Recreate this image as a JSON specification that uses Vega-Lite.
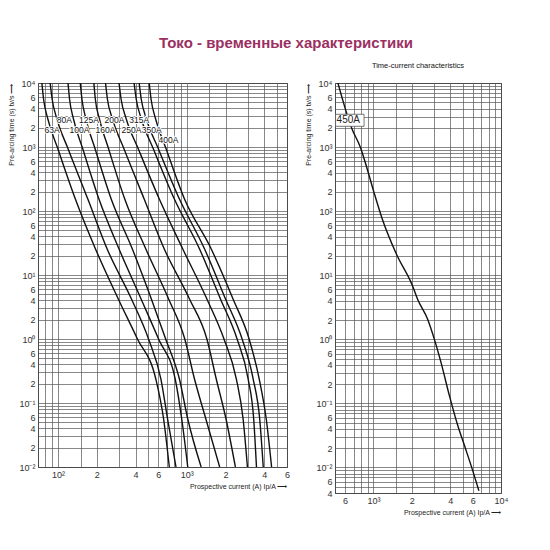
{
  "$schema": "https://vega.github.io/schema/vega-lite/v6.json",
  "background": "white",
  "padding": {"left": 7, "top": 36, "right": 5, "bottom": 5},
  "title": {"text": "Токо - временные характеристики", "fontSize": 15, "font": "Liberation Sans", "fontWeight": "bold", "color": "#9b2f62", "anchor": "middle", "dx": 28, "offset": 10},
  "config": {
    "font": "Liberation Sans",
    "view": {"stroke": "#333", "strokeWidth": 1},
    "axis": {"grid": true, "gridColor": "#555", "gridWidth": 0.7, "gridOpacity": 1, "ticks": false, "domain": false, "labelFontSize": 9, "labelColor": "#333", "titleFontSize": 7, "titleFontWeight": "normal", "titleColor": "#222", "labelPadding": 3, "labelOverlap": false, "labelFlush": false, "labelBound": false}
  },
  "datasets": {
    "left": [
      {"fuse": "63A", "I": 75, "t": 10000}, {"fuse": "63A", "I": 77.3, "t": 5623}, {"fuse": "63A", "I": 83.5, "t": 2738}, {"fuse": "63A", "I": 100, "t": 931}, {"fuse": "63A", "I": 136.5, "t": 154}, {"fuse": "63A", "I": 195.6, "t": 25.5}, {"fuse": "63A", "I": 294, "t": 4.22}, {"fuse": "63A", "I": 414, "t": 1}, {"fuse": "63A", "I": 575, "t": 0.237}, {"fuse": "63A", "I": 661, "t": 0.0562}, {"fuse": "63A", "I": 732, "t": 0.01},
      {"fuse": "80A", "I": 87, "t": 10000}, {"fuse": "80A", "I": 90.1, "t": 5623}, {"fuse": "80A", "I": 98.2, "t": 2738}, {"fuse": "80A", "I": 120, "t": 931}, {"fuse": "80A", "I": 170.6, "t": 154}, {"fuse": "80A", "I": 241, "t": 25.5}, {"fuse": "80A", "I": 372, "t": 4.22}, {"fuse": "80A", "I": 505, "t": 1}, {"fuse": "80A", "I": 630, "t": 0.237}, {"fuse": "80A", "I": 710, "t": 0.0562}, {"fuse": "80A", "I": 825, "t": 0.01},
      {"fuse": "100A", "I": 119.7, "t": 10000}, {"fuse": "100A", "I": 123, "t": 5623}, {"fuse": "100A", "I": 132, "t": 2738}, {"fuse": "100A", "I": 156, "t": 931}, {"fuse": "100A", "I": 208, "t": 154}, {"fuse": "100A", "I": 298, "t": 25.5}, {"fuse": "100A", "I": 442, "t": 4.22}, {"fuse": "100A", "I": 604, "t": 1}, {"fuse": "100A", "I": 813, "t": 0.237}, {"fuse": "100A", "I": 914, "t": 0.0562}, {"fuse": "100A", "I": 1018, "t": 0.01},
      {"fuse": "125A", "I": 149, "t": 10000}, {"fuse": "125A", "I": 153.5, "t": 5623}, {"fuse": "125A", "I": 165, "t": 2738}, {"fuse": "125A", "I": 194.5, "t": 931}, {"fuse": "125A", "I": 259, "t": 154}, {"fuse": "125A", "I": 378, "t": 25.5}, {"fuse": "125A", "I": 531, "t": 4.22}, {"fuse": "125A", "I": 686, "t": 1}, {"fuse": "125A", "I": 877, "t": 0.237}, {"fuse": "125A", "I": 1018, "t": 0.0562}, {"fuse": "125A", "I": 1293, "t": 0.01},
      {"fuse": "160A", "I": 190, "t": 10000}, {"fuse": "160A", "I": 195, "t": 5623}, {"fuse": "160A", "I": 210, "t": 2738}, {"fuse": "160A", "I": 247.5, "t": 931}, {"fuse": "160A", "I": 330, "t": 154}, {"fuse": "160A", "I": 481, "t": 25.5}, {"fuse": "160A", "I": 723, "t": 4.22}, {"fuse": "160A", "I": 965, "t": 1}, {"fuse": "160A", "I": 1148, "t": 0.237}, {"fuse": "160A", "I": 1407, "t": 0.0562}, {"fuse": "160A", "I": 1801, "t": 0.01},
      {"fuse": "200A", "I": 234, "t": 10000}, {"fuse": "200A", "I": 242, "t": 5623}, {"fuse": "200A", "I": 265, "t": 2738}, {"fuse": "200A", "I": 326, "t": 931}, {"fuse": "200A", "I": 467, "t": 154}, {"fuse": "200A", "I": 669, "t": 25.5}, {"fuse": "200A", "I": 1050, "t": 4.22}, {"fuse": "200A", "I": 1433, "t": 1}, {"fuse": "200A", "I": 1694, "t": 0.237}, {"fuse": "200A", "I": 2017, "t": 0.0562}, {"fuse": "200A", "I": 2385, "t": 0.01},
      {"fuse": "250A", "I": 298, "t": 10000}, {"fuse": "250A", "I": 309, "t": 5623}, {"fuse": "250A", "I": 339, "t": 2738}, {"fuse": "250A", "I": 421, "t": 931}, {"fuse": "250A", "I": 612, "t": 154}, {"fuse": "250A", "I": 931, "t": 25.5}, {"fuse": "250A", "I": 1433, "t": 4.22}, {"fuse": "250A", "I": 1945, "t": 1}, {"fuse": "250A", "I": 2427, "t": 0.237}, {"fuse": "250A", "I": 2738, "t": 0.0562}, {"fuse": "250A", "I": 2958, "t": 0.01},
      {"fuse": "315A", "I": 390, "t": 10000}, {"fuse": "315A", "I": 405, "t": 5623}, {"fuse": "315A", "I": 444, "t": 2738}, {"fuse": "315A", "I": 551, "t": 931}, {"fuse": "315A", "I": 801, "t": 154}, {"fuse": "315A", "I": 1257, "t": 25.5}, {"fuse": "315A", "I": 1827, "t": 4.22}, {"fuse": "315A", "I": 2459, "t": 1}, {"fuse": "315A", "I": 2997, "t": 0.237}, {"fuse": "315A", "I": 3308, "t": 0.0562}, {"fuse": "315A", "I": 3477, "t": 0.01},
      {"fuse": "350A", "I": 427, "t": 10000}, {"fuse": "350A", "I": 443, "t": 5623}, {"fuse": "350A", "I": 486, "t": 2738}, {"fuse": "350A", "I": 603, "t": 931}, {"fuse": "350A", "I": 877, "t": 154}, {"fuse": "350A", "I": 1375, "t": 25.5}, {"fuse": "350A", "I": 1999, "t": 4.22}, {"fuse": "350A", "I": 2690, "t": 1}, {"fuse": "350A", "I": 3278, "t": 0.237}, {"fuse": "350A", "I": 3683, "t": 0.0562}, {"fuse": "350A", "I": 3925, "t": 0.01},
      {"fuse": "400A", "I": 511, "t": 10000}, {"fuse": "400A", "I": 528, "t": 5623}, {"fuse": "400A", "I": 573, "t": 2738}, {"fuse": "400A", "I": 692, "t": 931}, {"fuse": "400A", "I": 960, "t": 154}, {"fuse": "400A", "I": 1549, "t": 25.5}, {"fuse": "400A", "I": 2287, "t": 4.22}, {"fuse": "400A", "I": 3049, "t": 1}, {"fuse": "400A", "I": 3652, "t": 0.237}, {"fuse": "400A", "I": 4140, "t": 0.0562}, {"fuse": "400A", "I": 4556, "t": 0.01}
    ],
    "leftLabels": [
      {"label": "80A", "I": 112, "t": 2650}, {"label": "125A", "I": 174, "t": 2650}, {"label": "200A", "I": 275, "t": 2650}, {"label": "315A", "I": 427, "t": 2650},
      {"label": "63A", "I": 90, "t": 1850}, {"label": "100A", "I": 147, "t": 1850}, {"label": "160A", "I": 234, "t": 1850}, {"label": "250A", "I": 372, "t": 1850}, {"label": "350A", "I": 535, "t": 1850}, {"label": "400A", "I": 720, "t": 1300}
    ],
    "right": [
      {"fuse": "450A", "I": 527, "t": 10000}, {"fuse": "450A", "I": 605, "t": 3846}, {"fuse": "450A", "I": 675, "t": 1991}, {"fuse": "450A", "I": 794, "t": 970}, {"fuse": "450A", "I": 881, "t": 503}, {"fuse": "450A", "I": 1013, "t": 193}, {"fuse": "450A", "I": 1177, "t": 74}, {"fuse": "450A", "I": 1517, "t": 21.2}, {"fuse": "450A", "I": 2028, "t": 6.8}, {"fuse": "450A", "I": 2220, "t": 4.22}, {"fuse": "450A", "I": 2661, "t": 2.06}, {"fuse": "450A", "I": 3006, "t": 1.0}, {"fuse": "450A", "I": 3390, "t": 0.433}, {"fuse": "450A", "I": 3945, "t": 0.131}, {"fuse": "450A", "I": 4590, "t": 0.0447}, {"fuse": "450A", "I": 5180, "t": 0.0218}, {"fuse": "450A", "I": 5840, "t": 0.0106}, {"fuse": "450A", "I": 6710, "t": 0.00434}
    ],
    "rightLabel": [
      {"label": "450A", "I": 635, "t": 2625, "I1": 505, "I2": 845, "t1": 2110, "t2": 3250}
    ]
  },
  "bounds": "flush",
  "spacing": 48,
  "hconcat": [
    {
      "width": 249,
      "height": 384,
      "layer": [
        {
          "data": {"name": "left"},
          "mark": {"type": "line", "color": "#111", "strokeWidth": 1.4, "interpolate": "monotone", "clip": true},
          "encoding": {
            "x": {"field": "I", "type": "quantitative",
              "scale": {"type": "log", "domain": [70, 6000], "nice": false},
              "axis": {"values": [70, 80, 90, 100, 150, 200, 300, 400, 500, 600, 700, 800, 900, 1000, 1500, 2000, 3000, 4000, 5000, 6000],
                "labelExpr": "abs(datum.value/pow(10,floor(log(datum.value)/LN10+1e-9))-1)<0.01 ? '10'+['⁻³','⁻²','⁻¹','⁰','¹','²','³','⁴'][floor(log(datum.value)/LN10+1e-9)+3] : ((abs(datum.value/pow(10,floor(log(datum.value)/LN10+1e-9))-2)<0.01||abs(datum.value/pow(10,floor(log(datum.value)/LN10+1e-9))-4)<0.01||abs(datum.value/pow(10,floor(log(datum.value)/LN10+1e-9))-6)<0.01) ? ''+round(datum.value/pow(10,floor(log(datum.value)/LN10+1e-9))) : '')",
                "title": "Prospective current (A) Ip/A     ⟶", "titleAnchor": "end", "titlePadding": 3}},
            "y": {"field": "t", "type": "quantitative",
              "scale": {"type": "log", "domain": [0.01, 10000], "nice": false},
              "axis": {"values": [0.01, 0.02, 0.03, 0.04, 0.05, 0.06, 0.07, 0.08, 0.09, 0.1, 0.2, 0.3, 0.4, 0.5, 0.6, 0.7, 0.8, 0.9, 1, 2, 3, 4, 5, 6, 7, 8, 9, 10, 20, 30, 40, 50, 60, 70, 80, 90, 100, 200, 300, 400, 500, 600, 700, 800, 900, 1000, 2000, 3000, 4000, 5000, 6000, 7000, 8000, 9000, 10000],
                "labelExpr": "abs(datum.value/pow(10,floor(log(datum.value)/LN10+1e-9))-1)<0.01 ? '10'+['⁻³','⁻²','⁻¹','⁰','¹','²','³','⁴'][floor(log(datum.value)/LN10+1e-9)+3] : ((abs(datum.value/pow(10,floor(log(datum.value)/LN10+1e-9))-2)<0.01||abs(datum.value/pow(10,floor(log(datum.value)/LN10+1e-9))-4)<0.01||abs(datum.value/pow(10,floor(log(datum.value)/LN10+1e-9))-6)<0.01) ? ''+round(datum.value/pow(10,floor(log(datum.value)/LN10+1e-9))) : '')",
                "title": "Pre-arcing time (s) tv/s   ⟶", "titleAnchor": "end", "titlePadding": 4}},
            "detail": {"field": "fuse"},
            "order": {"field": "t", "sort": "descending"}
          }
        },
        {
          "data": {"name": "leftLabels"},
          "mark": {"type": "text", "fontSize": 8.5, "color": "white", "stroke": "white", "strokeWidth": 2},
          "encoding": {
            "x": {"field": "I", "type": "quantitative"},
            "y": {"field": "t", "type": "quantitative"},
            "text": {"field": "label"}
          }
        },
        {
          "data": {"name": "leftLabels"},
          "mark": {"type": "text", "fontSize": 8.5, "color": "#111"},
          "encoding": {
            "x": {"field": "I", "type": "quantitative"},
            "y": {"field": "t", "type": "quantitative"},
            "text": {"field": "label"}
          }
        }
      ]
    },
    {
      "width": 166,
      "height": 410,
      "title": {"text": "Time-current characteristics", "fontSize": 7.5, "fontWeight": "normal", "color": "#111", "offset": 10},
      "layer": [
        {
          "data": {"name": "right"},
          "mark": {"type": "line", "color": "#111", "strokeWidth": 1.4, "interpolate": "monotone", "clip": true},
          "encoding": {
            "x": {"field": "I", "type": "quantitative",
              "scale": {"type": "log", "domain": [500, 10000], "nice": false},
              "axis": {"values": [500, 600, 700, 800, 900, 1000, 1500, 2000, 3000, 4000, 5000, 6000, 7000, 8000, 9000, 10000],
                "labelExpr": "abs(datum.value/pow(10,floor(log(datum.value)/LN10+1e-9))-1)<0.01 ? '10'+['⁻³','⁻²','⁻¹','⁰','¹','²','³','⁴'][floor(log(datum.value)/LN10+1e-9)+3] : ((abs(datum.value/pow(10,floor(log(datum.value)/LN10+1e-9))-2)<0.01||abs(datum.value/pow(10,floor(log(datum.value)/LN10+1e-9))-4)<0.01||abs(datum.value/pow(10,floor(log(datum.value)/LN10+1e-9))-6)<0.01) ? ''+round(datum.value/pow(10,floor(log(datum.value)/LN10+1e-9))) : '')",
                "title": "Prospective current (A) Ip/A     ⟶", "titleAnchor": "end", "titlePadding": 3}},
            "y": {"field": "t", "type": "quantitative",
              "scale": {"type": "log", "domain": [0.004, 10000], "nice": false},
              "axis": {"values": [0.004, 0.005, 0.006, 0.007, 0.008, 0.009, 0.01, 0.02, 0.03, 0.04, 0.05, 0.06, 0.07, 0.08, 0.09, 0.1, 0.2, 0.3, 0.4, 0.5, 0.6, 0.7, 0.8, 0.9, 1, 2, 3, 4, 5, 6, 7, 8, 9, 10, 20, 30, 40, 50, 60, 70, 80, 90, 100, 200, 300, 400, 500, 600, 700, 800, 900, 1000, 2000, 3000, 4000, 5000, 6000, 7000, 8000, 9000, 10000],
                "labelExpr": "abs(datum.value/pow(10,floor(log(datum.value)/LN10+1e-9))-1)<0.01 ? '10'+['⁻³','⁻²','⁻¹','⁰','¹','²','³','⁴'][floor(log(datum.value)/LN10+1e-9)+3] : ((abs(datum.value/pow(10,floor(log(datum.value)/LN10+1e-9))-2)<0.01||abs(datum.value/pow(10,floor(log(datum.value)/LN10+1e-9))-4)<0.01||abs(datum.value/pow(10,floor(log(datum.value)/LN10+1e-9))-6)<0.01) ? ''+round(datum.value/pow(10,floor(log(datum.value)/LN10+1e-9))) : '')",
                "title": "Pre-arcing time (s) tv/s   ⟶", "titleAnchor": "end", "titlePadding": 4}},
            "detail": {"field": "fuse"},
            "order": {"field": "t", "sort": "descending"}
          }
        },
        {
          "data": {"name": "rightLabel"},
          "mark": {"type": "rect", "fill": "white", "stroke": "#555", "strokeWidth": 0.8},
          "encoding": {
            "x": {"field": "I1", "type": "quantitative"},
            "x2": {"field": "I2"},
            "y": {"field": "t1", "type": "quantitative"},
            "y2": {"field": "t2"}
          }
        },
        {
          "data": {"name": "rightLabel"},
          "mark": {"type": "text", "fontSize": 10, "color": "#222"},
          "encoding": {
            "x": {"field": "I", "type": "quantitative"},
            "y": {"field": "t", "type": "quantitative"},
            "text": {"field": "label"}
          }
        }
      ]
    }
  ]
}
